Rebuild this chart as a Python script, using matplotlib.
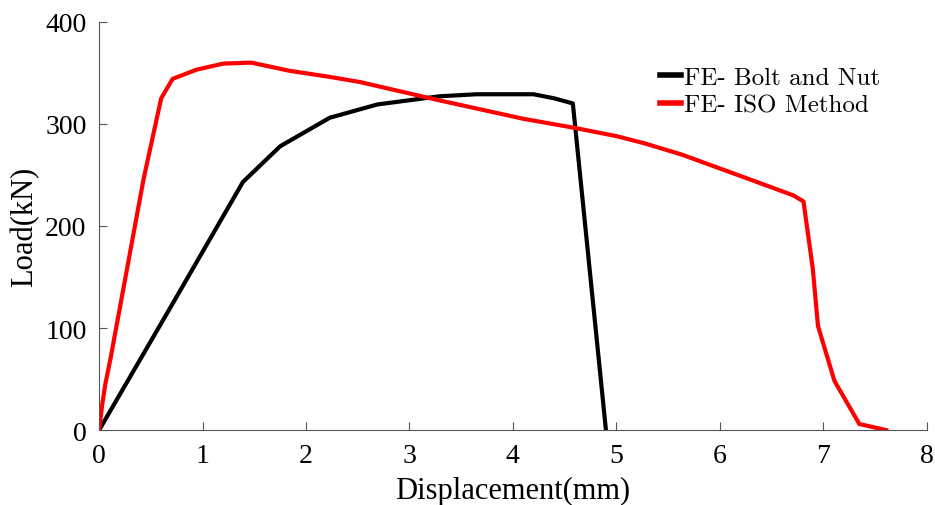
import matplotlib.pyplot as plt

# FE- Bolt and Nut
bolt_x = [0, 0.7, 1.39, 1.75, 2.23, 2.69, 3.29, 3.65, 4.2, 4.4, 4.58, 4.9]
bolt_y = [0, 122, 243, 278, 306, 319, 327, 329, 329, 325, 320, 0]

# FE- ISO Method
iso_x = [0, 0.03, 0.06, 0.11, 0.43, 0.6, 0.71, 0.94, 1.2, 1.47, 1.84, 2.23, 2.52,
         3.29, 4.1, 4.6, 5.0, 5.27, 5.63, 6.28, 6.71, 6.81, 6.9, 6.95, 7.11, 7.35, 7.61]
iso_y = [0, 25, 45, 70, 246, 325, 344, 353, 359, 360, 352, 346, 341,
         323, 305, 296, 288, 281, 270, 246, 230, 224, 158, 102, 48, 6, 0]

xticks = [0, 1, 2, 3, 4, 5, 6, 7, 8]
yticks = [0, 100, 200, 300, 400]

plt.rcParams['font.family'] = ['Liberation Serif', 'DejaVu Serif']

fig = plt.figure(figsize=(9.35, 5.06), dpi=100)
ax = fig.add_axes([0.106, 0.148, 0.885, 0.807])
ax.plot(bolt_x, bolt_y, color='black', lw=3, label='FE- Bolt and Nut')
ax.plot(iso_x, iso_y, color='red', lw=3, label='FE- ISO Method')

ax.set_xlim(0, 8)
ax.set_ylim(0, 400)
ax.set_xticks(xticks)
ax.set_yticks(yticks)
ax.tick_params(direction='in', length=6, color='#555555', labelsize=20, pad=9)
for s in ['top', 'right']:
    ax.spines[s].set_visible(False)
for s in ['left', 'bottom']:
    ax.spines[s].set_color('#555555')
    ax.spines[s].set_linewidth(0.8)

ax.set_xlabel('Displacement(mm)', fontsize=22, labelpad=6)
ax.set_ylabel('Load(kN)', fontsize=22, labelpad=4)
leg = ax.legend(loc='upper left', bbox_to_anchor=(0.666, 0.915), frameon=False,
                prop={'family': ['cmr10', 'DejaVu Serif'], 'size': 18},
                handlelength=0.85, handletextpad=0.1, labelspacing=0.2,
                borderaxespad=0)
for h in leg.get_lines():
    h.set_linewidth(4)

fig.savefig('out.png', dpi=100)
